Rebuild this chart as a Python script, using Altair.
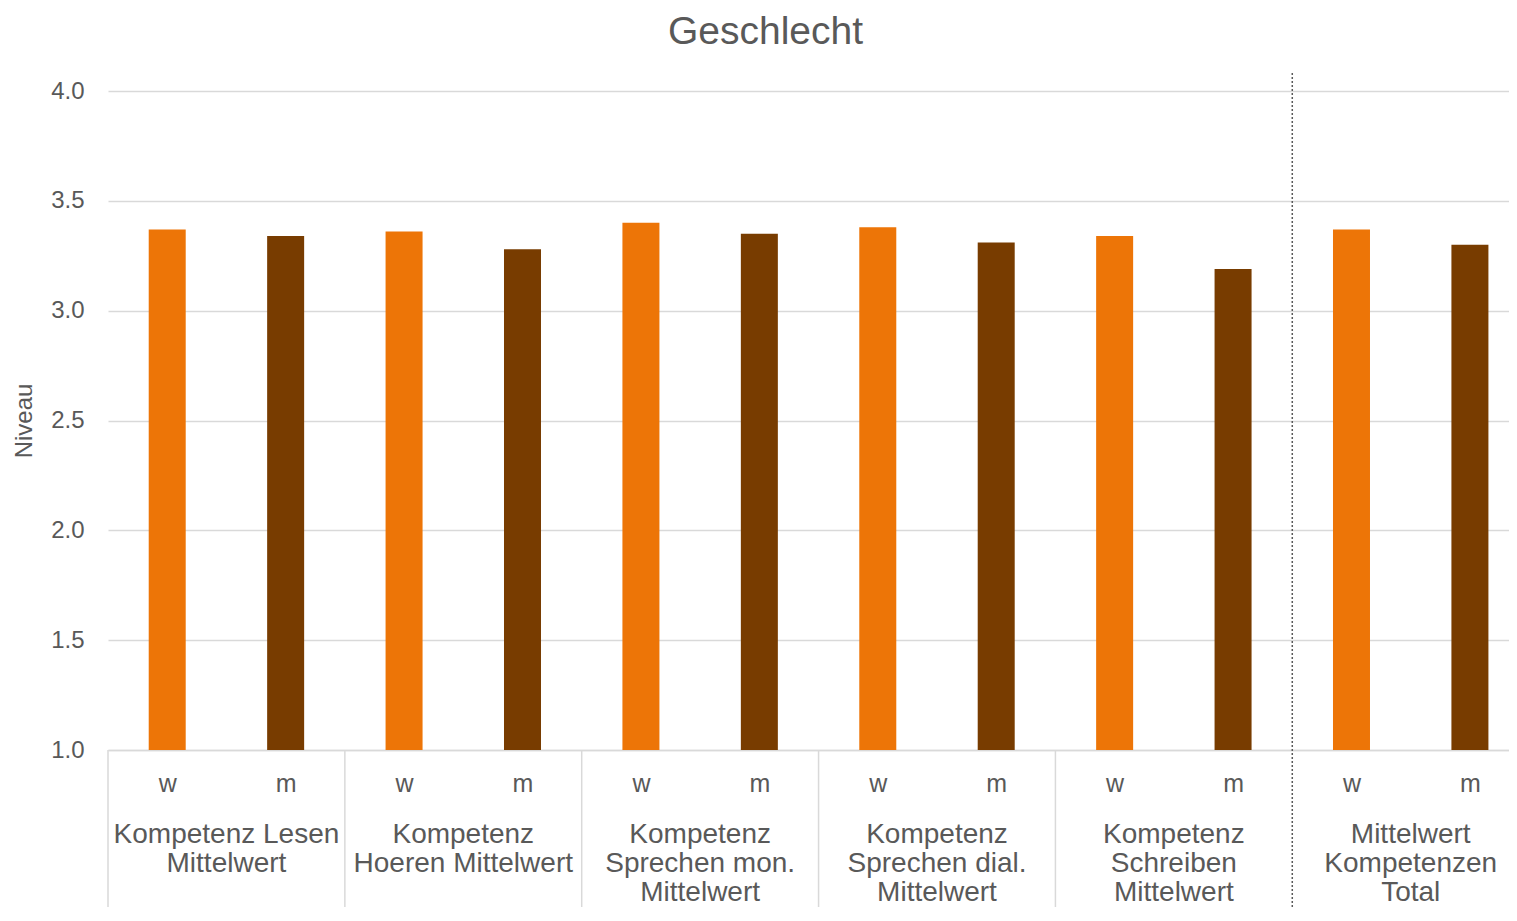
import altair as alt
import pandas as pd

groups = [
    "Kompetenz Lesen\nMittelwert",
    "Kompetenz\nHoeren Mittelwert",
    "Kompetenz\nSprechen mon.\nMittelwert",
    "Kompetenz\nSprechen dial.\nMittelwert",
    "Kompetenz\nSchreiben\nMittelwert",
    "Mittelwert\nKompetenzen\nTotal",
]
sexes = ["w", "m"]
values_w = [3.37, 3.36, 3.40, 3.38, 3.34, 3.37]
values_m = [3.34, 3.28, 3.35, 3.31, 3.19, 3.30]
y_ticks = [1.0, 1.5, 2.0, 2.5, 3.0, 3.5, 4.0]

FONT = "Liberation Sans"
GREY = "#595959"
GRID = "#d9d9d9"
W, H = 1401, 659

rows = []
for g, (vw, vm) in enumerate(zip(values_w, values_m)):
    rows.append({"group": g, "sex": "w", "pos": 2 * g + 0.5, "value": vw})
    rows.append({"group": g, "sex": "m", "pos": 2 * g + 1.5, "value": vm})
bars_df = pd.DataFrame(rows)

labels_df = pd.DataFrame({"pos": [2 * g + 1 for g in range(len(groups))], "label": groups})
sep_df = pd.DataFrame({"pos": [2 * g for g in range(len(groups) - 1)]})
dot_df = pd.DataFrame({"pos": [2 * (len(groups) - 1)]})

xscale = alt.Scale(domain=[0, 11.83], nice=False, zero=False, padding=0)

bars = alt.Chart(bars_df).mark_bar(size=37).encode(
    x=alt.X(
        "pos:Q",
        scale=xscale,
        axis=alt.Axis(
            values=[i + 0.5 for i in range(12)],
            labelExpr="floor(datum.value) % 2 == 0 ? 'w' : 'm'",
            ticks=False,
            grid=False,
            domainColor=GRID,
            domainWidth=1.5,
            labelFont=FONT,
            labelFontSize=25,
            labelColor=GREY,
            labelPadding=21,
            labelOverlap=False,
            labelFlush=False,
            title=None,
        ),
    ),
    y=alt.Y(
        "value:Q",
        scale=alt.Scale(domain=[1, 4], nice=False, zero=False),
        axis=alt.Axis(
            values=y_ticks,
            format=".1f",
            ticks=False,
            domain=False,
            gridColor=GRID,
            gridWidth=1.5,
            labelFont=FONT,
            labelFontSize=24,
            labelColor=GREY,
            labelPadding=24,
            title="Niveau",
            titleFont=FONT,
            titleFontSize=24,
            titleFontWeight="normal",
            titleColor=GREY,
            titlePadding=14,
        ),
    ),
    y2=alt.datum(1.0),
    color=alt.Color(
        "sex:N",
        scale=alt.Scale(domain=sexes, range=["#ED7507", "#783C00"]),
        legend=None,
    ),
)

group_text = alt.Chart(labels_df).mark_text(
    font=FONT, fontSize=28, color=GREY, baseline="top", align="center",
    lineBreak="\n", lineHeight=29,
).encode(
    x=alt.X("pos:Q", scale=xscale),
    y=alt.value(H + 71),
    text="label:N",
)

separators = alt.Chart(sep_df).mark_rule(color=GRID, strokeWidth=1.5).encode(
    x=alt.X("pos:Q", scale=xscale),
    y=alt.value(H),
    y2=alt.value(H + 200),
)

dotted = alt.Chart(dot_df).mark_rule(color=GREY, strokeWidth=1.5, strokeDash=[2, 2]).encode(
    x=alt.X("pos:Q", scale=xscale),
    y=alt.value(-18),
    y2=alt.value(H + 200),
)

chart = alt.layer(bars, separators, dotted, group_text).properties(
    width=W,
    height=H,
    autosize=alt.AutoSizeParams(type="none"),
    padding={"left": 100, "top": 83, "right": 0, "bottom": 157},
    title=alt.TitleParams(
        "Geschlecht", font=FONT, fontSize=39, fontWeight="normal", color=GREY,
        anchor="middle", dx=-43, offset=20,
    ),
).configure_view(stroke=None)

chart.save("out.html", embed_options={"renderer": "svg", "actions": False})
